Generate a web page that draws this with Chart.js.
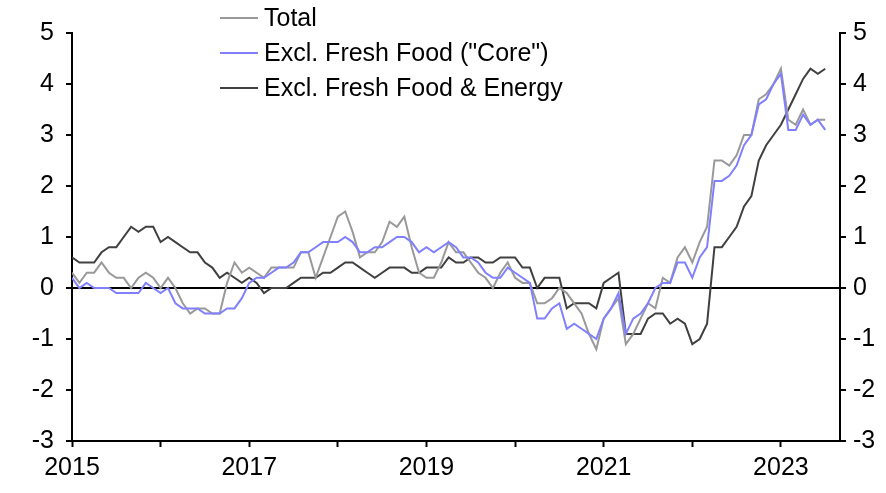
<!DOCTYPE html>
<html>
<head>
<meta charset="utf-8">
<script src="https://cdn.jsdelivr.net/npm/chart.js@4.4.0/dist/chart.umd.min.js"></script>
<style>
  html, body { margin: 0; padding: 0; background: #fff; }
  #wrap { width: 886px; height: 493px; position: relative; }
</style>
</head>
<body>
<div id="wrap"><canvas id="grafico"></canvas></div>
<script>
// Japan CPI, % y/y, monthly from Jan 2015 to Jul 2023
const inicioAno = 2015;
const anosRotulo = [2015, 2017, 2019, 2021, 2023];
const nomesSeries = ["Total", "Excl. Fresh Food (\"Core\")", "Excl. Fresh Food & Energy"];

const total = [
  0.3, 0.1, 0.3, 0.3, 0.5, 0.3, 0.2, 0.2, 0.0, 0.2, 0.3, 0.2,
  0.0, 0.2, 0.0, -0.3, -0.5, -0.4, -0.4, -0.5, -0.5, 0.1, 0.5, 0.3,
  0.4, 0.3, 0.2, 0.4, 0.4, 0.4, 0.4, 0.7, 0.7, 0.2, 0.6, 1.0,
  1.4, 1.5, 1.1, 0.6, 0.7, 0.7, 0.9, 1.3, 1.2, 1.4, 0.8, 0.3,
  0.2, 0.2, 0.5, 0.9, 0.7, 0.7, 0.5, 0.3, 0.2, 0.0, 0.3, 0.5,
  0.2, 0.1, 0.1, -0.3, -0.3, -0.2, 0.0, -0.1, -0.3, -0.5, -0.9, -1.2,
  -0.6, -0.4, -0.2, -1.1, -0.9, -0.6, -0.3, -0.4, 0.2, 0.1, 0.6, 0.8,
  0.5, 0.9, 1.2, 2.5, 2.5, 2.4, 2.6, 3.0, 3.0, 3.7, 3.8, 4.0,
  4.3, 3.3, 3.2, 3.5, 3.2, 3.3, 3.3
];

const core = [
  0.2, 0.0, 0.1, 0.0, 0.0, 0.0, -0.1, -0.1, -0.1, -0.1, 0.1, 0.0,
  -0.1, 0.0, -0.3, -0.4, -0.4, -0.4, -0.5, -0.5, -0.5, -0.4, -0.4, -0.2,
  0.1, 0.2, 0.2, 0.3, 0.4, 0.4, 0.5, 0.7, 0.7, 0.8, 0.9, 0.9,
  0.9, 1.0, 0.9, 0.7, 0.7, 0.8, 0.8, 0.9, 1.0, 1.0, 0.9, 0.7,
  0.8, 0.7, 0.8, 0.9, 0.8, 0.6, 0.6, 0.5, 0.3, 0.2, 0.2, 0.4,
  0.3, 0.2, 0.1, -0.6, -0.6, -0.4, -0.3, -0.8, -0.7, -0.8, -0.9, -1.0,
  -0.6, -0.4, -0.1, -0.9, -0.6, -0.5, -0.3, 0.0, 0.1, 0.1, 0.5, 0.5,
  0.2, 0.6, 0.8, 2.1, 2.1, 2.2, 2.4, 2.8, 3.0, 3.6, 3.7, 4.0,
  4.2, 3.1, 3.1, 3.4, 3.2, 3.3, 3.1
];

const coreCore = [
  0.6, 0.5, 0.5, 0.5, 0.7, 0.8, 0.8, 1.0, 1.2, 1.1, 1.2, 1.2,
  0.9, 1.0, 0.9, 0.8, 0.7, 0.7, 0.5, 0.4, 0.2, 0.3, 0.2, 0.1,
  0.2, 0.1, -0.1, 0.0, 0.0, 0.0, 0.1, 0.2, 0.2, 0.2, 0.3, 0.3,
  0.4, 0.5, 0.5, 0.4, 0.3, 0.2, 0.3, 0.4, 0.4, 0.4, 0.3, 0.3,
  0.4, 0.4, 0.4, 0.6, 0.5, 0.5, 0.6, 0.6, 0.5, 0.5, 0.6, 0.6,
  0.6, 0.4, 0.4, 0.0, 0.2, 0.2, 0.2, -0.4, -0.3, -0.3, -0.3, -0.4,
  0.1, 0.2, 0.3, -0.9, -0.9, -0.9, -0.6, -0.5, -0.5, -0.7, -0.6, -0.7,
  -1.1, -1.0, -0.7, 0.8, 0.8, 1.0, 1.2, 1.6, 1.8, 2.5, 2.8, 3.0,
  3.2, 3.5, 3.8, 4.1, 4.3, 4.2, 4.3
];

const cores = ["#999999", "#8080ff", "#404040"];
const fonte = "'Liberation Sans', Arial, sans-serif";

function pontos(serie) {
  return serie.map((v, i) => ({ x: i, y: v }));
}

// legenda desenhada no canvas, sobre a area do grafico
const legendaPlugin = {
  id: "legendaManual",
  afterDraw(chart) {
    const ctx = chart.ctx;
    const ys = [18, 53, 88];
    ctx.save();
    ctx.font = "25px " + fonte;
    ctx.textBaseline = "middle";
    ctx.fillStyle = "#000";
    nomesSeries.forEach((nome, i) => {
      ctx.strokeStyle = cores[i];
      ctx.lineWidth = 2;
      ctx.beginPath();
      ctx.moveTo(220, ys[i]);
      ctx.lineTo(258, ys[i]);
      ctx.stroke();
      ctx.fillText(nome, 264, ys[i] + 1);
    });
    ctx.restore();
  }
};

const eixoY = (posicao, largura, pad) => ({
  type: "linear",
  position: posicao,
  min: -3,
  max: 5,
  afterFit(s) { s.width = largura; },
  ticks: {
    stepSize: 1,
    color: "#000",
    padding: pad,
    font: { family: fonte, size: 25 }
  },
  grid: {
    drawOnChartArea: posicao === "left",
    color: c => (c.tick && c.tick.value === 0 ? "#000" : "rgba(0,0,0,0)"),
    lineWidth: 2,
    tickLength: 6,
    tickColor: "#000",
    tickWidth: 2
  },
  border: { color: "#000", width: 2 }
});

new Chart(document.getElementById("grafico").getContext("2d"), {
  type: "line",
  data: {
    datasets: [
      { label: nomesSeries[0], data: pontos(total), borderColor: cores[0], order: 2 },
      { label: nomesSeries[1], data: pontos(core), borderColor: cores[1], order: 1 },
      { label: nomesSeries[2], data: pontos(coreCore), borderColor: cores[2], order: 3 }
    ]
  },
  options: {
    responsive: true,
    maintainAspectRatio: false,
    animation: false,
    layout: { padding: { top: 33, left: 0, right: 0, bottom: 0 } },
    elements: {
      line: { borderWidth: 2, tension: 0, fill: false },
      point: { radius: 0 }
    },
    plugins: {
      legend: { display: false },
      tooltip: { enabled: false }
    },
    scales: {
      x: {
        type: "linear",
        min: 0,
        max: 104,
        afterFit(s) { s.height = 52; },
        afterBuildTicks(s) {
          const t = [];
          for (let m = 0; m <= 96; m += 12) t.push({ value: m });
          s.ticks = t;
        },
        ticks: {
          color: "#000",
          padding: 6,
          maxRotation: 0,
          autoSkip: false,
          font: { family: fonte, size: 25 },
          callback: v => {
            const ano = inicioAno + v / 12;
            return anosRotulo.includes(ano) ? String(ano) : "";
          }
        },
        grid: {
          drawOnChartArea: false,
          tickLength: 6,
          tickColor: "#000",
          tickWidth: 2
        },
        border: { color: "#000", width: 2 }
      },
      y: eixoY("left", 72, 12),
      y2: eixoY("right", 46, 7)
    }
  },
  plugins: [legendaPlugin]
});
</script>
</body>
</html>
